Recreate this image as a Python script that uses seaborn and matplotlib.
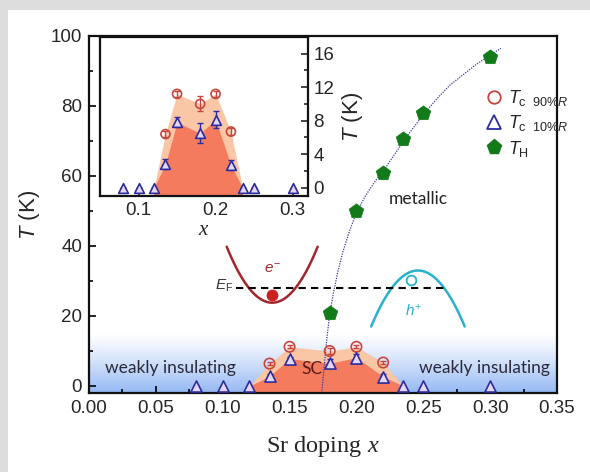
import numpy as np
import pandas as pd
import matplotlib
matplotlib.use('Agg')
import matplotlib.pyplot as plt
import seaborn as sns
from matplotlib.lines import Line2D
from matplotlib.patches import Rectangle
from matplotlib.ticker import MultipleLocator

# ---------------- data ----------------
tc_x = [0.135, 0.15, 0.18, 0.20, 0.22]
tc90_T = [6.4, 11.2, 10.0, 11.2, 6.7]
tc90_err = [0.4, 0.4, 0.9, 0.4, 0.4]

tc10_x = [0.08, 0.10, 0.12, 0.135, 0.15, 0.18, 0.20, 0.22, 0.235, 0.25, 0.30]
tc10_T = [0, 0, 0, 2.8, 7.8, 6.5, 8.1, 2.7, 0, 0, 0]
tc10_err = [0, 0, 0, 0.6, 0.6, 1.2, 1.0, 0.6, 0, 0, 0]

th_x = [0.18, 0.20, 0.22, 0.235, 0.25, 0.30]
th_T = [21, 50, 61, 70.5, 78, 94]

fit_x = [0.174, 0.176, 0.178, 0.180, 0.183, 0.186, 0.190, 0.195, 0.200, 0.207,
         0.214, 0.222, 0.230, 0.240, 0.250, 0.260, 0.270, 0.280, 0.290, 0.300, 0.308]
fit_T = [-2, 6, 14, 20.5, 27, 32.5, 38.5, 44.5, 49.5, 54.5,
         58.5, 62.5, 67, 72.5, 77.5, 82, 86, 89, 92, 94.5, 96.5]

sc_edges = [0.12, 0.235]   # x where the SC dome meets T = 0

x_ticks_main = [0.00, 0.05, 0.10, 0.15, 0.20, 0.25, 0.30, 0.35]
y_ticks_main = [0, 20, 40, 60, 80, 100]
x_ticks_inset = [0.1, 0.2, 0.3]
y_ticks_inset = [0, 4, 8, 12, 16]

# ---------------- style ----------------
sns.set_theme(style='ticks')
plt.rcParams['font.family'] = ['Liberation Sans', 'DejaVu Sans']
plt.rcParams['mathtext.fontset'] = 'custom'
plt.rcParams['mathtext.rm'] = 'Liberation Sans'
plt.rcParams['mathtext.it'] = 'Liberation Sans:italic'
plt.rcParams['mathtext.sf'] = 'Liberation Serif:italic'

C_RED = '#c8453c'
C_BLUE = '#2c2c9c'
C_TRI_FACE = '#e4d6f4'
C_GREEN = '#137a1a'
C_PEACH = '#f9c6a6'
C_SALMON = '#f47b5e'
C_FIT = '#3a3aa8'
C_EBAND = '#a3262c'
C_HBAND = '#2bb0cc'

fig = plt.figure(figsize=(5.9, 4.72), dpi=100)
fig.patch.set_facecolor('#dddddd')
fig.patches.append(Rectangle((8/590, 0), 1, 1 - 10/472, transform=fig.transFigure,
                             facecolor='white', edgecolor='none', zorder=-10))

L, R, T_, B = 89, 557, 36, 393
ax = fig.add_axes([L/590, 1 - B/472, (R-L)/590, (B-T_)/472])
ax.set_facecolor('none')
ax.set_xlim(0, 0.35)
ax.set_ylim(-2, 100)

# blue gradient at the bottom
grad = np.linspace(0, 1, 256)[:, None]
rgba = np.zeros((256, 1, 4))
rgba[..., 0] = 0.58
rgba[..., 1] = 0.72
rgba[..., 2] = 0.96
rgba[..., 3] = (1 - grad[:, 0:1]) ** 1.2
ax.imshow(rgba, extent=[0, 0.35, -2, 15], origin='lower', aspect='auto', zorder=0,
          interpolation='bilinear')


def draw_dome(a, ybot):
    px = [sc_edges[0]] + tc_x + [sc_edges[1]]
    py = [0] + tc90_T + [0]
    a.fill_between(px, ybot, py, color=C_PEACH, lw=0, zorder=1)
    i0 = tc10_x.index(sc_edges[0])
    i1 = tc10_x.index(sc_edges[1])
    a.fill_between(tc10_x[i0:i1+1], ybot, tc10_T[i0:i1+1], color=C_SALMON, lw=0, zorder=1.5)


def draw_points(a, ms_c, ms_t):
    a.errorbar(tc_x, tc90_T, yerr=tc90_err, fmt='none', ecolor=C_RED, elinewidth=1,
               capsize=2.5, zorder=3)
    a.errorbar(tc10_x, tc10_T, yerr=tc10_err, fmt='none', ecolor=C_BLUE, elinewidth=1,
               capsize=2.5, zorder=3)
    sns.scatterplot(x=tc_x, y=tc90_T, ax=a, marker='o', s=ms_c**2, facecolor='none',
                    edgecolor=C_RED, linewidth=1.2, zorder=4, legend=False)
    sns.scatterplot(x=tc10_x, y=tc10_T, ax=a, marker='^', s=ms_t**2, color=C_TRI_FACE,
                    edgecolor=C_BLUE, linewidth=1.2, zorder=4, legend=False)


draw_dome(ax, -2)
sns.lineplot(x=fit_x, y=fit_T, ax=ax, color=C_FIT, lw=0.9, linestyle=(0, (1, 1)),
             zorder=2.5, sort=False)
draw_points(ax, 7.5, 8)
sns.scatterplot(x=th_x, y=th_T, ax=ax, marker='p', s=11**2, color=C_GREEN,
                edgecolor=C_GREEN, linewidth=0.5, zorder=5, legend=False)

# band sketches
ex = np.linspace(-1, 1, 60)
ax.plot(0.137 + 0.034*ex, 23.8 + 16*ex**2, color=C_EBAND, lw=1.8, zorder=3)
ax.plot([0.137], [26.0], 'o', color='#cc1f1f', ms=7.5, zorder=3)
ax.text(0.137, 33.5, r'$e^{-}$', color=C_EBAND, fontsize=11, ha='center', va='center')
ax.plot(0.246 + 0.035*ex, 33 - 16*ex**2, color=C_HBAND, lw=1.8, zorder=3)
ax.plot([0.241], [30.2], 'o', mfc='none', mec=C_HBAND, ms=7, mew=1.3, zorder=3)
ax.text(0.243, 21.5, r'$h^{+}$', color=C_HBAND, fontsize=11, ha='center', va='center')
ax.plot([0.110, 0.268], [28, 28], color='black', lw=1.5, linestyle=(0, (3.5, 2.5)), zorder=3)
ax.text(0.108, 28.5, r'$E_{\mathrm{F}}$', fontsize=11, ha='right', va='center', color='#333333')

txt_font = ['Lato', 'DejaVu Sans']
ax.text(0.061, 5, 'weakly insulating', fontsize=12.5, ha='center', va='center',
        color='#2a2a3a', family=txt_font, zorder=6)
ax.text(0.296, 5, 'weakly insulating', fontsize=12.5, ha='center', va='center',
        color='#2a2a3a', family=txt_font, zorder=6)
ax.text(0.167, 5, 'SC', fontsize=12.5, ha='center', va='center', color='#5a1a14',
        family=txt_font, zorder=6)
ax.text(0.246, 53.5, 'metallic', fontsize=12.5, ha='center', va='center', color='#222222',
        family=txt_font, zorder=6)

# axes formatting
ax.set_xticks(x_ticks_main)
ax.set_xticklabels([f'{v:.2f}' for v in x_ticks_main])
ax.set_yticks(y_ticks_main)
ax.xaxis.set_minor_locator(MultipleLocator(0.025))
ax.yaxis.set_minor_locator(MultipleLocator(10))
ax.tick_params(which='both', direction='in', labelsize=13.5, color='black', width=1.2)
ax.tick_params(which='major', length=5, pad=5)
ax.tick_params(which='minor', length=3)
for s in ax.spines.values():
    s.set_linewidth(1.6)
    s.set_color('#111111')
    s.set_visible(True)
ax.set_xlabel(r'Sr doping $\mathsf{x}$', fontsize=17.5, labelpad=12)
ax.xaxis.label.set_fontfamily(['Liberation Serif'])
ax.set_ylabel(r'$T$ (K)', fontsize=16, labelpad=6)

# legend
handles = [
    Line2D([], [], marker='o', ls='none', mfc='none', mec=C_RED, ms=9, mew=1.3),
    Line2D([], [], marker='^', ls='none', mfc='none', mec=C_BLUE, ms=10, mew=1.3),
    Line2D([], [], marker='p', ls='none', mfc=C_GREEN, mec=C_GREEN, ms=11),
]
labels = [r'$T_{\mathrm{c\ \ 90\%}R}$', r'$T_{\mathrm{c\ \ 10\%}R}$', r'$T_{\mathrm{H}}$']
ax.legend(handles, labels, loc='upper left', bbox_to_anchor=(0.83, 0.875), frameon=False,
          fontsize=13, handlelength=1.0, handletextpad=0.3, labelspacing=0.3,
          borderaxespad=0)

# ---------------- inset ----------------
iL, iR, iT, iB = 100, 308, 37, 196
ax2 = fig.add_axes([iL/590, 1 - iB/472, (iR-iL)/590, (iB-iT)/472])
ax2.set_facecolor('white')
ax2.set_xlim(0.05, 0.32)
ax2.set_ylim(-1, 18)
draw_dome(ax2, -1)
draw_points(ax2, 6.5, 7)
ax2.set_xticks(x_ticks_inset)
ax2.set_xticklabels([f'{v:.1f}' for v in x_ticks_inset])
ax2.set_yticks(y_ticks_inset)
ax2.yaxis.set_minor_locator(MultipleLocator(2))
ax2.yaxis.tick_right()
ax2.yaxis.set_label_position('right')
ax2.tick_params(which='both', direction='in', labelsize=13.5, width=1.2)
ax2.tick_params(which='major', length=5, pad=4)
ax2.tick_params(which='minor', length=3)
for s in ax2.spines.values():
    s.set_linewidth(1.6)
    s.set_color('#111111')
ax2.set_xlabel(r'$\mathsf{x}$', fontsize=15, labelpad=1)
ax2.set_ylabel(r'$T$ (K)', fontsize=16, labelpad=4)

fig.savefig('out.png', dpi=100, facecolor=fig.get_facecolor())
